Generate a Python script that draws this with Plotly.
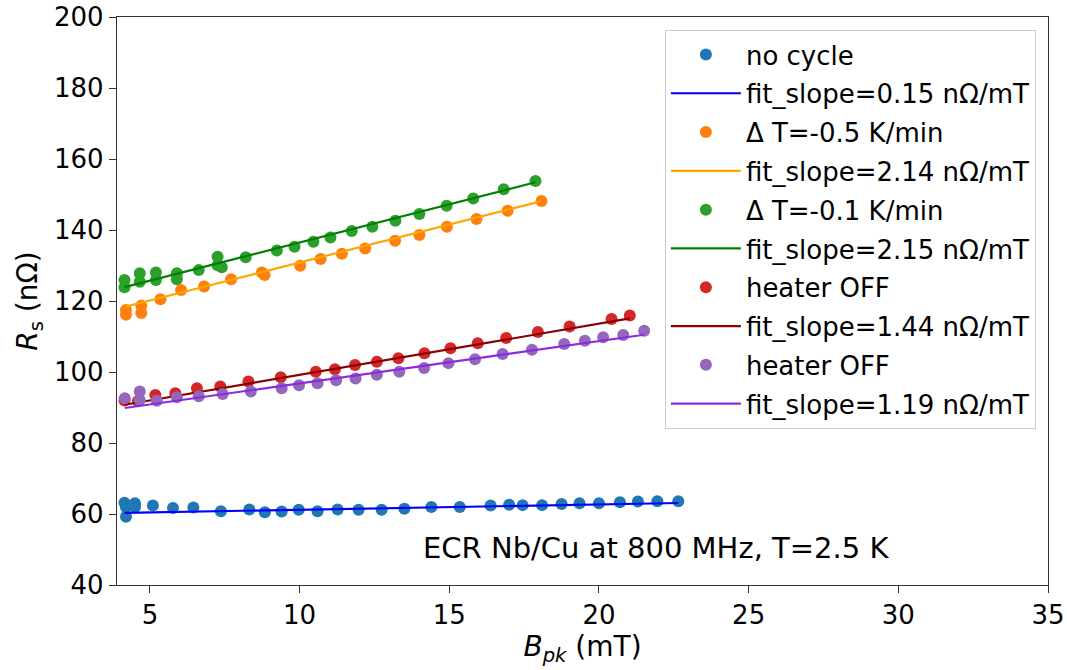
import numpy as np
import plotly.graph_objects as go

# ---- data ----
nocycle_x = [4.15, 4.2, 4.2, 4.5, 4.5, 5.1, 5.77, 6.45, 7.37, 8.32, 8.84, 9.4, 9.97, 10.6, 11.27,
             11.97, 12.74, 13.5, 14.4, 15.35, 16.38, 17.0, 17.45, 18.1, 18.75, 19.35, 20.0, 20.7,
             21.3, 21.95, 22.65]
nocycle_y = [63.2, 62.0, 59.2, 63.0, 62.0, 62.4, 61.7, 61.8, 60.8, 61.3, 60.5, 60.7, 61.2, 60.8, 61.3,
             61.2, 61.2, 61.5, 62.0, 62.0, 62.4, 62.6, 62.5, 62.5, 62.8, 63.0, 63.0, 63.3,
             63.5, 63.6, 63.6]

dt05_x = [4.2, 4.2, 4.71, 4.71, 5.35, 6.04, 6.81, 7.71, 8.74, 8.83, 10.02, 10.7, 11.41, 12.19,
          13.19, 14.0, 14.92, 15.91, 16.95, 18.08]
dt05_y = [117.5, 116.1, 118.7, 116.6, 120.5, 123.1, 124.1, 126.1, 128.0, 127.3, 129.9, 131.8, 133.3, 134.8,
          137.0, 138.6, 140.9, 143.1, 145.4, 148.2]

dt01_x = [4.15, 4.15, 4.66, 4.66, 5.2, 5.2, 5.9, 5.9, 6.63, 7.26, 7.26, 7.4, 8.2, 9.24, 9.83, 10.46,
          11.03, 11.74, 12.43, 13.2, 14.0, 14.91, 15.8, 16.82, 17.88]
dt01_y = [125.9, 123.9, 127.8, 125.4, 128.0, 125.9, 127.8, 126.1, 128.7, 132.5, 130.1, 129.5, 132.3, 134.2,
          135.3, 136.7, 137.9, 139.7, 140.9, 142.6, 144.5, 146.8, 148.9, 151.5, 153.8]

heat1_x = [4.15, 4.6, 5.18, 5.85, 6.57, 7.35, 8.29, 9.37, 10.54, 11.18, 11.85, 12.58, 13.3, 14.17,
           15.04, 15.95, 16.9, 17.96, 19.02, 20.42, 21.03]
heat1_y = [92.0, 91.8, 93.5, 94.0, 95.4, 95.9, 97.3, 98.5, 100.1, 100.8, 102.0, 102.9, 103.9, 105.3,
           106.7, 108.1, 109.6, 111.3, 112.8, 114.9, 115.9]

heat2_x = [4.16, 4.66, 4.66, 5.23, 5.9, 6.63, 7.43, 8.37, 9.4, 9.98, 10.6, 11.22, 11.87, 12.58,
           13.33, 14.16, 14.97, 15.86, 16.78, 17.76, 18.84, 19.53, 20.14, 20.81, 21.51]
heat2_y = [92.6, 94.5, 92.1, 91.9, 92.9, 93.2, 93.8, 94.5, 95.4, 96.3, 96.8, 97.7, 98.2, 99.2,
           100.1, 101.1, 102.5, 103.6, 105.1, 106.3, 107.9, 108.8, 109.8, 110.4, 111.6]

series_names = ["no cycle", "\u0394 T=-0.5 K/min", "\u0394 T=-0.1 K/min", "heater OFF", "heater OFF"]
fit_slopes = [0.15, 2.14, 2.15, 1.44, 1.19]
fit_intercepts = [59.7, 109.45, 115.0, 84.8, 84.9]

marker_colors = ["#1f77b4", "#ff7f0e", "#2ca02c", "#d62728", "#9467bd"]
line_colors = ["blue", "orange", "green", "darkred", "blueviolet"]

xs = [nocycle_x, dt05_x, dt01_x, heat1_x, heat2_x]
ys = [nocycle_y, dt05_y, dt01_y, heat1_y, heat2_y]

FONT = "DejaVu Sans"

fig = go.Figure()
gi = 0
for i in range(5):
    fig.add_trace(go.Scatter(
        x=xs[i], y=ys[i], mode="markers", name=series_names[i],
        legendgroup=f"g{gi}",
        marker=dict(color=marker_colors[i], size=12, line=dict(width=0)),
    ))
    gi += 1
    xf = np.array([min(xs[i]), max(xs[i])])
    yf = np.polyval([fit_slopes[i], fit_intercepts[i]], xf)
    fig.add_trace(go.Scatter(
        x=xf, y=yf, mode="lines",
        name=f"fit_slope={fit_slopes[i]:.2f} n\u03a9/mT",
        legendgroup=f"g{gi}",
        line=dict(color=line_colors[i], width=2.2),
    ))
    gi += 1

fig.add_annotation(
    x=0.5, y=0.0, xref="paper", yref="paper",
    xanchor="center", yanchor="bottom",
    text="ECR Nb/Cu at 800 MHz, T=2.5 K", showarrow=False,
    font=dict(family=FONT, size=29, color="black"),
    xshift=73, yshift=18,
)

axis_common = dict(
    showgrid=False, zeroline=False, showline=True, linecolor="#333", linewidth=1.3,
    mirror=True, ticks="outside", ticklen=7, tickwidth=1.3, tickcolor="#333",
    tickfont=dict(family=FONT, size=26, color="black"), automargin=False,
)

fig.update_layout(
    width=1067, height=670,
    margin=dict(l=117, r=19, t=17, b=85),
    paper_bgcolor="white", plot_bgcolor="white",
    font=dict(family=FONT, color="black"),
    xaxis=dict(range=[3.9, 35], tickvals=[5, 10, 15, 20, 25, 30, 35],
               title=dict(text="<i>B<sub>pk</sub></i> (mT)", font=dict(family=FONT, size=28), standoff=6),
               **axis_common),
    yaxis=dict(range=[40, 200], tickvals=[40, 60, 80, 100, 120, 140, 160, 180, 200],
               title=dict(text="<i>R</i><sub>s</sub> (n\u03a9)", font=dict(family=FONT, size=28), standoff=8),
               **axis_common),
    legend=dict(
        x=0.987, y=0.977, xanchor="right", yanchor="top",
        bgcolor="rgba(255,255,255,0.85)", bordercolor="#cccccc", borderwidth=1,
        font=dict(family=FONT, size=26, color="black"),
        tracegroupgap=2, itemwidth=70,
    ),
    showlegend=True,
)

fig.write_html("out.html", config={"displayModeBar": False},
               post_script="document.body.style.margin='0';")
